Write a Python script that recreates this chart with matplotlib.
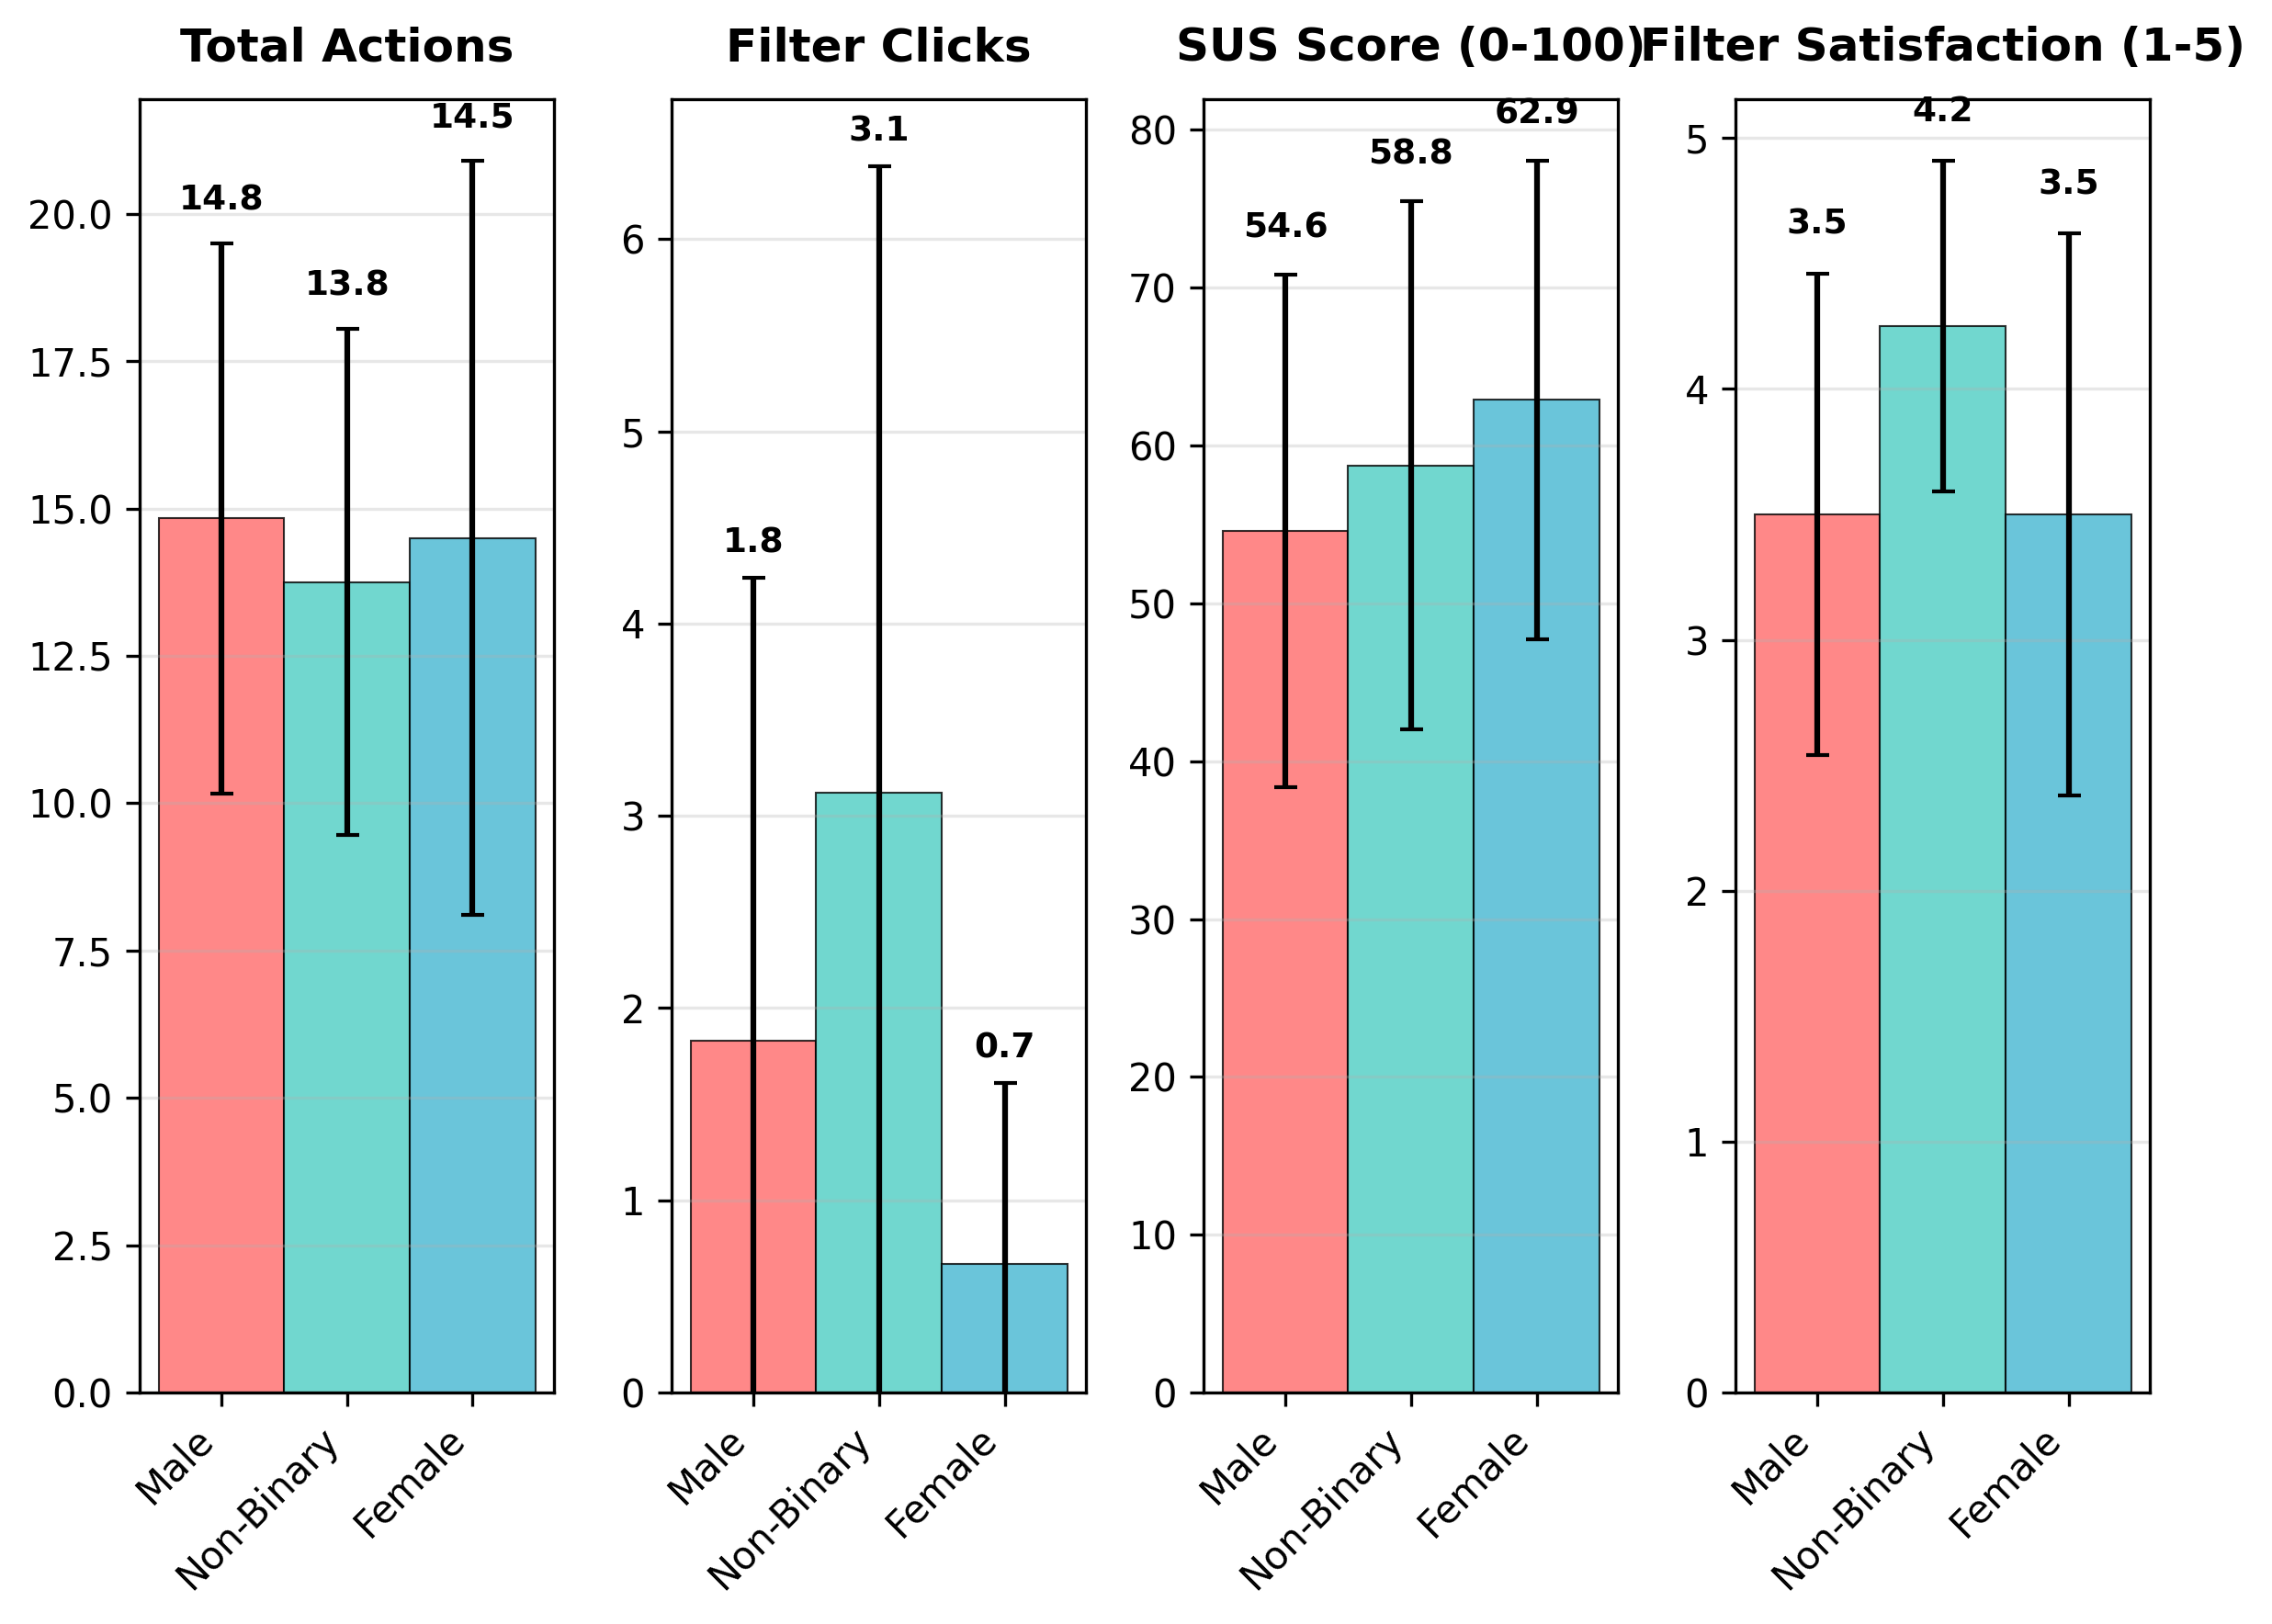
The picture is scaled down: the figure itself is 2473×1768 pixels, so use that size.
import numpy as np
import matplotlib
matplotlib.use("Agg")
import matplotlib.pyplot as plt

groups = ["Male", "Non-Binary", "Female"]
colors = ["#FF6B6B", "#4ECDC4", "#45B7D1"]

titles = ["Total Actions", "Filter Clicks", "SUS Score (0-100)", "Filter Satisfaction (1-5)"]

total_mean = [14.83, 13.75, 14.5]
total_sd = [4.67, 4.29, 6.40]
clicks_mean = [1.83, 3.12, 0.67]
clicks_sd = [2.41, 3.26, 0.94]
sus_mean = [54.6, 58.75, 62.9]
sus_sd = [16.25, 16.75, 15.15]
sat_mean = [3.5, 4.25, 3.5]
sat_sd = [0.96, 0.66, 1.12]

means = [total_mean, clicks_mean, sus_mean, sat_mean]
sds = [total_sd, clicks_sd, sus_sd, sat_sd]

fig, axes = plt.subplots(1, 4, figsize=(2473 / 300, 1768 / 300), dpi=300)
fig.subplots_adjust(left=0.0615, right=0.9464, top=0.939, bottom=0.1425, wspace=0.283)

x = np.arange(len(groups))
for ax, title, m, s in zip(axes, titles, means, sds):
    ax.bar(x, m, width=1.0, yerr=s, capsize=3, color=colors, alpha=0.8,
           edgecolor="black", linewidth=0.5, error_kw=dict(ecolor="black"))
    ax.set_title(title, fontsize=12, fontweight="bold", pad=10)
    ax.set_xticks(x)
    ax.set_xticklabels(groups, rotation=45, ha="right")
    ax.grid(axis="y", alpha=0.3)
    ax.set_ylim(bottom=0)
    off = max(m) * 0.03
    for xi, mi, si in zip(x, m, s):
        ax.text(xi, mi + si + off, f"{mi:.1f}", ha="center", va="bottom",
                fontsize=9, fontweight="bold")

plt.savefig("out.png", dpi=300)
